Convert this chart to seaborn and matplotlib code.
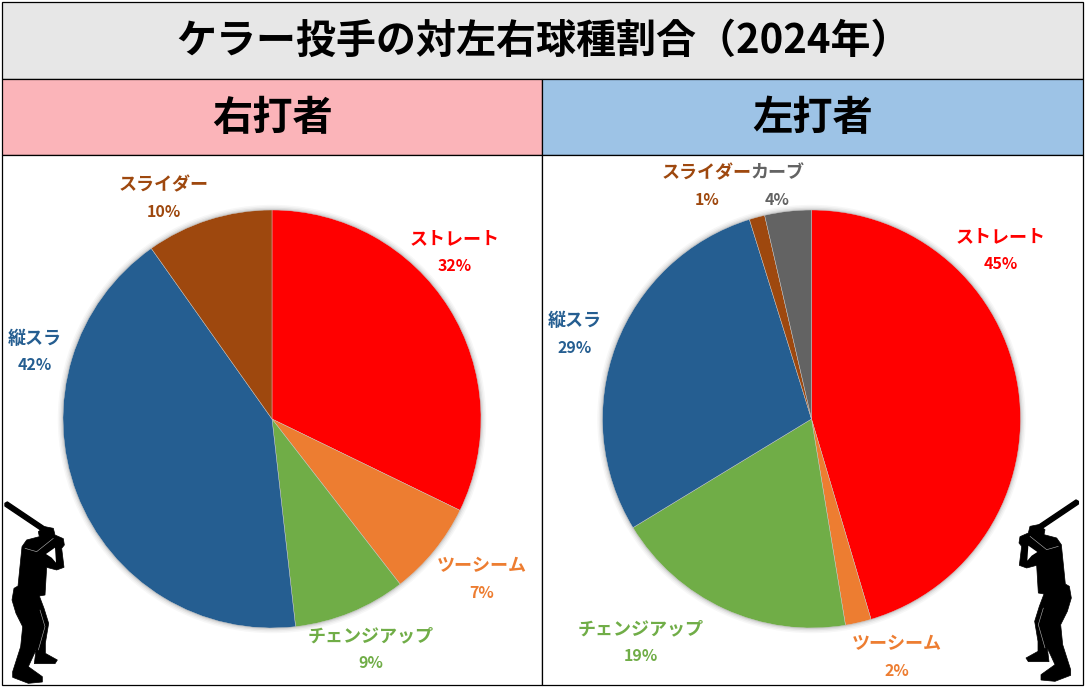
import matplotlib
matplotlib.use('Agg')
import matplotlib.pyplot as plt
from matplotlib.patches import Rectangle, Polygon
import seaborn as sns
sns.set_theme(style='white')
plt.rcParams['font.family'] = ['Noto Sans CJK JP', 'DejaVu Sans']

title = 'ケラー投手の対左右球種割合（2024年）'
panel_names = ['右打者', '左打者']
panel_colors = ['#FBB4B9', '#9DC3E6']
right_labels = ['ストレート', 'ツーシーム', 'チェンジアップ', '縦スラ', 'スライダー']
right_values = [32.2, 7.3, 8.7, 42.0, 9.8]
right_pct = ['32%', '7%', '9%', '42%', '10%']
right_colors = ['#FF0000', '#ED7D31', '#70AD47', '#255E91', '#9E480E']
left_labels = ['ストレート', 'ツーシーム', 'チェンジアップ', '縦スラ', 'スライダー', 'カーブ']
left_values = [45.4, 2.0, 18.9, 28.9, 1.2, 3.6]
left_pct = ['45%', '2%', '19%', '29%', '1%', '4%']
left_colors = ['#FF0000', '#ED7D31', '#70AD47', '#255E91', '#9E480E', '#636363']
right_text_pos = [(455, 252), (482, 579), (371, 649), (35, 351), (164, 198)]
left_text_pos = [(1001, 250), (897, 657), (641, 642), (575, 334), (707, 186), (777, 186)]

W, H = 1085, 687
fig = plt.figure(figsize=(W/100, H/100), dpi=100)
bg = fig.add_axes([0, 0, 1, 1])
bg.set_xlim(0, W); bg.set_ylim(H, 0); bg.axis('off')

def box(x0, y0, x1, y1, fc):
    bg.add_patch(Rectangle((x0, y0), x1-x0, y1-y0, fc=fc, ec='black', lw=0.9))

box(2, 2, 1083, 79, '#E7E7E7')
box(2, 79, 542, 155, panel_colors[0])
box(542, 79, 1083, 155, panel_colors[1])
box(2, 155, 542, 685, 'white')
box(542, 155, 1083, 685, 'white')
bg.text(544, 41, title, ha='center', va='center', fontsize=28.8, fontweight='bold', color='black')
bg.text(273, 119, panel_names[0], ha='center', va='center', fontsize=29, fontweight='bold', color='black')
bg.text(813, 119, panel_names[1], ha='center', va='center', fontsize=29, fontweight='bold', color='black')

def pie(cx, cy, r, values, colors, labels, pcts, positions):
    ax = fig.add_axes([(cx-r)/W, 1-(cy+r)/H, 2*r/W, 2*r/H])
    ax.patch.set_alpha(0)
    for k, a in [(1.025, .03), (1.018, .04), (1.011, .06), (1.005, .08)]:
        ax.pie([1], radius=k, colors=['black'], wedgeprops={'alpha': a, 'lw': 0})
    ax.pie(values, colors=colors, startangle=90, counterclock=False, radius=1,
           wedgeprops={'lw': 0.3, 'ec': '#CCCCCC'})
    ax.set_xlim(-1, 1); ax.set_ylim(-1, 1)
    for spine in ax.spines.values():
        spine.set_visible(False)
    for lab, p, col, (x, y) in zip(labels, pcts, colors, positions):
        bg.text(x, y-13, lab, ha='center', va='center', fontsize=13, fontweight='bold', color=col, zorder=10)
        bg.text(x, y+14, p, ha='center', va='center', fontsize=11.5, fontweight='bold', color=col, zorder=10)

pie(272, 419, 209, right_values, right_colors, right_labels, right_pct, right_text_pos)
pie(811.5, 419, 209, left_values, left_colors, left_labels, left_pct, left_text_pos)

# batter silhouettes (decorative artwork)
bat = [(15,70),(22,66),(135,142),(125,152),(15,78)]
body = [(115,155),(135,140),(160,145),(165,165),(190,176),(193,195),(185,205),(192,262),
        (170,270),(140,262),(135,345),(118,348),(132,385),(146,430),(136,490),(136,520),
        (172,540),(165,551),(103,551),(108,510),(85,560),(127,590),(127,606),(85,610),
        (38,592),(38,575),(62,500),(68,440),(48,400),(36,360),(42,325),(54,318),(66,200),
        (80,180),(118,170)]
gap = [(138,222),(165,203),(168,248),(155,233)]
seam1 = [(75,205),(110,215),(160,175)]
seam2 = [(120,390),(135,440),(115,510)]

def left_map(p):
    return (p[0]/3, 480+p[1]/3)

def right_map(p):
    return (965+(355-p[0])/3, 480+(p[1]-6)/3)

for mapper in (left_map, right_map):
    bg.add_patch(Polygon([mapper(p) for p in bat], fc='black', ec='black', lw=1, joinstyle='round', zorder=5))
    bg.add_patch(Polygon([mapper(p) for p in body], fc='black', ec='black', lw=0.5, joinstyle='round', zorder=5))
    bg.add_patch(Polygon([mapper(p) for p in gap], fc='white', ec='none', zorder=6))
    for seam in (seam1, seam2):
        pts = [mapper(p) for p in seam]
        bg.plot([q[0] for q in pts], [q[1] for q in pts], color='#BBBBBB', lw=0.4, zorder=6)

bg.set_xlim(0, W); bg.set_ylim(H, 0)
fig.savefig('out.png', dpi=100)
